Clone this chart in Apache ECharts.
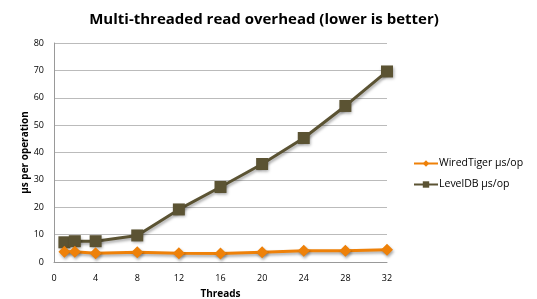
<!DOCTYPE html>
<html><head><meta charset="utf-8">
<script src="https://cdn.jsdelivr.net/npm/echarts@6/dist/echarts.min.js"></script>
<style>html,body{margin:0;padding:0;background:#fff}#c{width:537px;height:299px}</style>
</head><body><div id="c"></div>
<script>
const threads = [1, 2, 4, 8, 12, 16, 20, 24, 28, 32];
const wiredTiger = [3.7, 3.7, 3.2, 3.6, 3.2, 3.1, 3.6, 4.1, 4.1, 4.5];
const levelDB = [7.2, 7.6, 7.6, 9.7, 19.2, 27.4, 35.8, 45.3, 57.0, 69.6];
const xTicks = [0, 4, 8, 12, 16, 20, 24, 28, 32];
const yTicks = [0, 10, 20, 30, 40, 50, 60, 70, 80];

const chart = echarts.init(document.getElementById('c'), null, {renderer: 'canvas'});
const font = 'Open Sans';
const shadow = {shadowColor: 'rgba(0,0,0,0.35)', shadowBlur: 3, shadowOffsetX: 1, shadowOffsetY: 2};
chart.setOption({
  animation: false,
  title: {
    text: 'Multi-threaded read overhead (lower is better)',
    left: 259, top: 7, textAlign: 'center',
    textStyle: {fontFamily: font, fontWeight: 'bold', fontSize: 15, color: '#000'}
  },
  grid: {left: 54, right: 150, top: 43, bottom: 37, outerBoundsMode: 'none', containLabel: false},
  legend: {
    orient: 'vertical', left: 408, top: 153, itemGap: 10, itemWidth: 24, itemHeight: 8,
    textStyle: {fontFamily: font, fontSize: 10.5, color: '#000', padding: [0,0,0,-4]},
    data: ['WiredTiger µs/op', 'LevelDB µs/op']
  },
  xAxis: {
    type: 'value', min: 0, max: 32, interval: 4,
    name: 'Threads', nameLocation: 'middle', nameGap: 27,
    nameTextStyle: {fontFamily: font, fontWeight: 'bold', fontSize: 10, color: '#000'},
    axisLine: {lineStyle: {color: '#999', width: 1}},
    axisTick: {show: false},
    splitLine: {show: false},
    axisLabel: {fontFamily: font, fontSize: 9, color: '#000', margin: 12,
      formatter: v => xTicks.includes(v) ? String(v) : ''}
  },
  yAxis: {
    type: 'value', min: 0, max: 80, interval: 10,
    name: 'µs per operation', nameLocation: 'middle', nameGap: 24, nameMoveOverlap: false,
    nameTextStyle: {fontFamily: font, fontWeight: 'bold', fontSize: 10, color: '#000'},
    axisLine: {show: true, lineStyle: {color: '#999', width: 1}},
    axisTick: {show: false},
    splitLine: {lineStyle: {color: '#bbb', width: 1}},
    axisLabel: {fontFamily: font, fontSize: 9, color: '#000', margin: 10,
      formatter: v => yTicks.includes(v) ? String(v) : ''}
  },
  series: [
    {
      name: 'WiredTiger µs/op', type: 'line',
      data: threads.map((t, i) => [t, wiredTiger[i]]),
      symbol: 'diamond', symbolSize: 12,
      lineStyle: Object.assign({color: '#EE8109', width: 3}, shadow),
      itemStyle: Object.assign({color: '#EE8109'}, shadow),
      z: 3
    },
    {
      name: 'LevelDB µs/op', type: 'line',
      data: threads.map((t, i) => [t, levelDB[i]]),
      symbol: 'rect', symbolSize: 12,
      lineStyle: Object.assign({color: '#5B5333', width: 3}, shadow),
      itemStyle: Object.assign({color: '#5B5333'}, shadow),
      z: 2
    }
  ]
});
</script></body></html>
